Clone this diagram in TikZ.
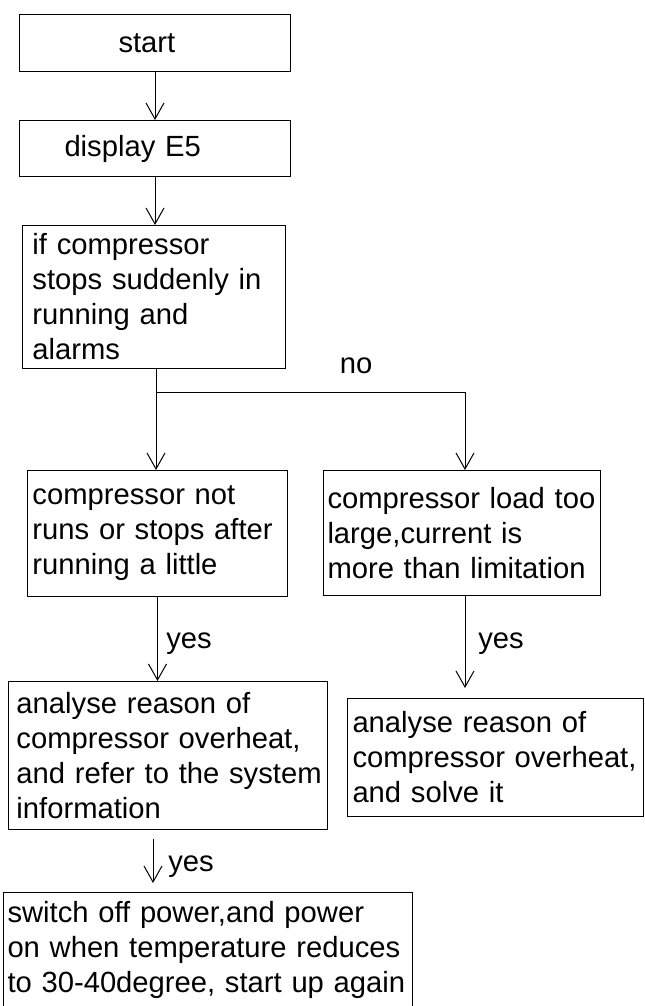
\documentclass[tikz,border=0pt]{standalone}
\usepackage{fontspec}
\setmainfont{Liberation Sans}
\usetikzlibrary{arrows.meta,calc}

\begin{document}
\begin{tikzpicture}[x=0.5pt, y=-0.5pt, >={Straight Barb[length=8pt,width=9pt]},
    box/.style={draw, line width=0.5pt, anchor=north west, align=left, inner ysep=0pt,
        font=\fontsize{14.6}{17.5}\selectfont},
    lbl/.style={inner sep=0pt, font=\fontsize{14.6}{17.5}\selectfont},
    link/.style={->, line width=0.5pt}]
    \useasboundingbox (0,0) rectangle (644,1006);

    % 开始
    \node[box, text width=125.5pt, inner xsep=5pt, minimum height=28.5pt] (start) at (19,14)
        {\hspace*{44.5pt}start};
    \node[box, text width=125.5pt, inner xsep=5pt, minimum height=28pt] (show) at (19,120)
        {\hspace*{17.5pt}display E5};
    \draw[link] (start.south) -- (show.north);

    % 判断
    \node[box, text width=121.5pt, inner xsep=5pt, minimum height=71.5pt] (check) at (22,225)
        {if compressor\\stops suddenly in\\running and\\alarms};
    \draw[link] (show.south) -- (show.south |- check.north);

    % 分支
    \coordinate (split) at (156,392);
    \coordinate (turn) at (465,392);
    \node[box, text width=125pt, inner xsep=2.5pt, minimum height=63pt] (norun) at (27,470)
        {compressor not\\runs or stops after\\running a little};
    \node[box, text width=134.5pt, inner xsep=2pt, minimum height=62.5pt] (overload) at (323,470)
        {compressor load too\\large,current is\\more than limitation};
    \draw[line width=0.5pt] (check.south -| split) -- (split);
    \draw[link] (split) -- (split |- norun.north);
    \draw[link] (split) -- (turn) -- (turn |- overload.north);
    \node[lbl] (no) at (356,366) {no};

    % 分析原因
    \node[box, text width=151.5pt, inner xsep=4pt, minimum height=74pt] (refer) at (8,681)
        {\mbox{analyse reason of}\\\mbox{compressor overheat,}\\\mbox{and refer to the system}\\\mbox{information}};
    \node[box, text width=143pt, inner xsep=2.5pt, minimum height=59pt] (solve) at (347,698)
        {\mbox{analyse reason of}\\\mbox{compressor overheat,}\\\mbox{and solve it}};
    \draw[link] (norun.south) -- (norun.south |- refer.north);
    \node[lbl] (yesleft) at (189,644) {yes};
    \draw[link, shorten >=5pt] (overload.south -| turn) -- (turn |- solve.north);
    \node[lbl] (yesright) at (501,644) {yes};

    % 断电重启
    \node[box, text width=200.5pt, inner xsep=2pt, minimum height=57.5pt] (restart) at (3,892)
        {switch off power,and power\\on when temperature reduces\\to 30-40degree, start up again};
    \coordinate (drop) at ($(refer.south)+(-15,0)$);
    \draw[link, shorten <=4.5pt, shorten >=4.5pt] (drop) -- (drop |- restart.north);
    \node[lbl] (yesdown) at (191,867) {yes};
\end{tikzpicture}
\end{document}
